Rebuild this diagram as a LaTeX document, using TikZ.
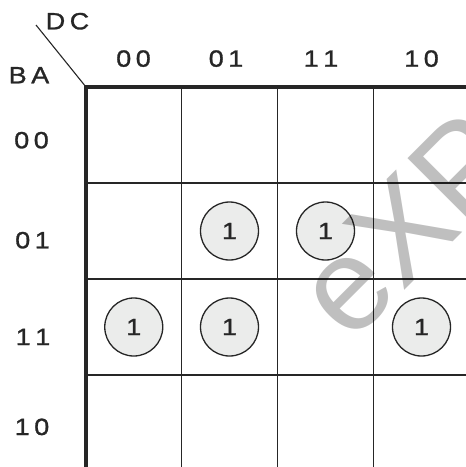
\documentclass[tikz,border=0pt]{standalone}
\usepackage{fontspec}
\setmainfont{Liberation Sans}
\newfontfamily\labfont{Liberation Sans}[FakeStretch=1.15,FakeBold=1.2]
\definecolor{ink}{HTML}{262626}
\definecolor{cellfill}{HTML}{EBECEB}
\begin{document}
\begin{tikzpicture}[x=1pt,y=-1pt,
  lab/.style={font=\labfont\fontsize{23.5}{28}\selectfont, text=ink, inner sep=0pt, anchor=base},
  one/.style={circle, draw=ink, line width=1.3pt, fill=cellfill, minimum size=58pt, inner sep=0pt, font=\labfont\fontsize{23.5}{28}\selectfont, text=ink},
  thinline/.style={draw=ink, line width=1.2pt},
  thickline/.style={draw=ink, line width=3.5pt},
  wm/.style={font=\fontsize{132}{150}\selectfont, text=black, text opacity=0.25, rotate=45, inner sep=0pt}]
\useasboundingbox (0,0) rectangle (466,467);
% grid coordinates
\coordinate (o) at (86,87);
\coordinate (tr) at (467,87);
\coordinate (bl) at (86,468);
\coordinate (d1) at (36,25);
% inner grid lines
\foreach \x/\n in {181.5/a,277.5/b,373.5/c}{
  \coordinate (v\n t) at (\x,87);
  \coordinate (v\n b) at (\x,468);
  \draw[thinline] (v\n t) -- (v\n b);
}
\foreach \y/\n in {183/a,279/b,375/c}{
  \coordinate (h\n l) at (86,\y);
  \coordinate (h\n r) at (467,\y);
  \draw[thinline] (h\n l) -- (h\n r);
}
% thick border
\draw[thickline] ([xshift=-1.75pt]o) -- (tr);
\draw[thickline] (o) -- (bl);
% diagonal
\draw[thinline, line width=1.1pt] (d1) -- (o);
% corner labels
\node[lab] (dc) at (67.5,29.3) {D\hspace{4.5pt}C};
\node[lab] (ba) at (29,83.3) {B\hspace{4.5pt}A};
% column labels
\node[lab] (c00) at (133.5,66.7) {0\hspace{4.5pt}0};
\node[lab] (c01) at (226,66.7) {0\hspace{4.5pt}1};
\node[lab] (c11) at (321,66.7) {1\hspace{4.5pt}1};
\node[lab] (c10) at (421.5,66.7) {1\hspace{4.5pt}0};
% row labels
\node[lab] (r00) at (31.5,148.3) {0\hspace{4.5pt}0};
\node[lab] (r01) at (32.5,248.3) {0\hspace{4.5pt}1};
\node[lab] (r11) at (33,345) {1\hspace{4.5pt}1};
\node[lab] (r10) at (32,435) {1\hspace{4.5pt}0};
% ones
\node[one] (m5) at (229.5,231) {1};
\node[one] (m13) at (325.5,231) {1};
\node[one] (m3) at (133.75,327) {1};
\node[one] (m7) at (229.5,327) {1};
\node[one] (m11) at (421.5,327) {1};
% watermark
\node[wm] (wmark) at (407,225) {eXP};
\end{tikzpicture}
\end{document}
